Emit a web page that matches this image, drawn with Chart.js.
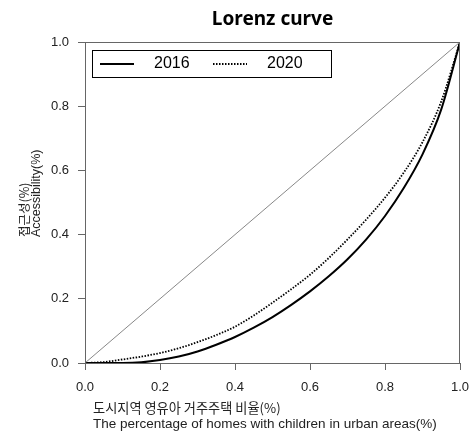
<!DOCTYPE html>
<html>
<head>
<meta charset="utf-8">
<script src="https://cdn.jsdelivr.net/npm/chart.js@4.4.0/dist/chart.umd.min.js"></script>
<style>
  html, body { margin: 0; padding: 0; background: #fff; }
</style>
</head>
<body>
<canvas id="lorenz-chart" width="473" height="433"></canvas>
<script>
// 누적 주택 비율 (x)
const shareHomes = [0, 0.05, 0.1, 0.15, 0.2, 0.25, 0.3, 0.35, 0.4, 0.45, 0.5,
                    0.55, 0.6, 0.65, 0.7, 0.75, 0.8, 0.85, 0.9, 0.95, 1];
// 누적 접근성 (y)
const access2016 = [0, 0, 0, 0.002, 0.009, 0.02, 0.036, 0.057, 0.081, 0.11, 0.143,
                    0.181, 0.223, 0.27, 0.323, 0.385, 0.458, 0.545, 0.65, 0.79, 1];
const access2020 = [0, 0.003, 0.011, 0.02, 0.031, 0.046, 0.065, 0.087, 0.113, 0.148, 0.188,
                    0.23, 0.275, 0.327, 0.385, 0.447, 0.515, 0.593, 0.688, 0.815, 1];
// 완전 평등선
const equalityX = [0, 1];
const equalityY = [0, 1];

const axisTicks = [0, 0.2, 0.4, 0.6, 0.8, 1];

const titleText = 'Lorenz curve';
const xTitleLines = ['도시지역 영유아 거주주택 비율(%)', 'The percentage of homes with children in urban areas(%)'];
const yTitleLines = ['접근성(%)', 'Accessibility(%)'];

const toPoints = (xs, ys) => xs.map((x, i) => ({ x: x, y: ys[i] }));

Chart.defaults.font.family = "'Liberation Sans', Arial, sans-serif";
Chart.defaults.color = '#222';

// 제목, 축 제목, 범례, 테두리
const decorations = {
    id: 'decorations',
    afterDraw(chart) {
        const ctx = chart.ctx;
        const area = chart.chartArea;
        ctx.save();

        // 테두리
        ctx.strokeStyle = '#666';
        ctx.lineWidth = 1;
        ctx.strokeRect(area.left + 0.5, area.top + 0.5, area.right - area.left - 1, area.bottom - area.top);

        // 제목
        ctx.fillStyle = '#000';
        ctx.font = "bold 19px 'Noto Sans', sans-serif";
        ctx.textAlign = 'center';
        ctx.textBaseline = 'alphabetic';
        ctx.fillText(titleText, (area.left + area.right) / 2, 25);

        // x축 제목
        ctx.fillStyle = '#222';
        ctx.textAlign = 'left';
        ctx.font = "13.2px 'Noto Sans CJK KR', sans-serif";
        ctx.fillText(xTitleLines[0], 93, 413);
        ctx.font = "13.5px 'Liberation Sans', Arial, sans-serif";
        ctx.fillText(xTitleLines[1], 93, 428);

        // y축 제목
        ctx.save();
        ctx.translate(29, 237);
        ctx.rotate(-Math.PI / 2);
        ctx.font = "12.5px 'Noto Sans CJK KR', sans-serif";
        ctx.fillText(yTitleLines[0], 0, 0);
        ctx.restore();
        ctx.save();
        ctx.translate(40, 237);
        ctx.rotate(-Math.PI / 2);
        ctx.font = "12.5px 'Liberation Sans', Arial, sans-serif";
        ctx.fillText(yTitleLines[1], 0, 0);
        ctx.restore();

        // 범례
        ctx.strokeStyle = '#000';
        ctx.lineWidth = 1;
        ctx.strokeRect(92.5, 50.5, 239, 27);
        const items = chart.data.datasets.filter(d => d.label);
        items.forEach((d, i) => {
            const x0 = 100 + i * 113;
            ctx.save();
            ctx.strokeStyle = d.borderColor;
            ctx.lineWidth = d.borderWidth;
            ctx.setLineDash(d.borderDash || []);
            ctx.beginPath();
            ctx.moveTo(x0, 64);
            ctx.lineTo(x0 + 34, 64);
            ctx.stroke();
            ctx.restore();
            ctx.fillStyle = '#000';
            ctx.font = "16px 'Liberation Sans', Arial, sans-serif";
            ctx.textAlign = 'left';
            ctx.textBaseline = 'middle';
            ctx.fillText(d.label, x0 + 54, 64);
        });

        ctx.restore();
    }
};

const tickFormat = v => Number(v).toFixed(1);

new Chart(document.getElementById('lorenz-chart').getContext('2d'), {
    type: 'line',
    data: {
        datasets: [
            {
                label: '',
                data: toPoints(equalityX, equalityY),
                borderColor: '#888',
                borderWidth: 1,
                pointRadius: 0
            },
            {
                label: '2016',
                data: toPoints(shareHomes, access2016),
                borderColor: '#000',
                borderWidth: 2,
                pointRadius: 0,
                cubicInterpolationMode: 'monotone'
            },
            {
                label: '2020',
                data: toPoints(shareHomes, access2020),
                borderColor: '#000',
                borderWidth: 1.8,
                borderDash: [1.5, 1.5],
                pointRadius: 0,
                cubicInterpolationMode: 'monotone'
            }
        ]
    },
    options: {
        responsive: false,
        animation: false,
        layout: { padding: { top: 42, right: 13, left: 0, bottom: 0 } },
        plugins: {
            legend: { display: false },
            tooltip: { enabled: false }
        },
        scales: {
            x: {
                type: 'linear',
                min: 0,
                max: 1,
                afterBuildTicks: s => { s.ticks = axisTicks.map(v => ({ value: v })); },
                afterFit: s => { s.height = 70; s.paddingLeft = 0; s.paddingRight = 0; },
                grid: { drawOnChartArea: false, drawTicks: true, tickLength: 7, tickColor: '#666' },
                border: { display: true, color: '#666' },
                ticks: { callback: tickFormat, font: { size: 13 }, padding: 10, maxRotation: 0 }
            },
            y: {
                type: 'linear',
                min: 0,
                max: 1,
                afterBuildTicks: s => { s.ticks = axisTicks.map(v => ({ value: v })); },
                afterFit: s => { s.width = 85; },
                grid: { drawOnChartArea: false, drawTicks: true, tickLength: 7, tickColor: '#666' },
                border: { display: true, color: '#666' },
                ticks: { callback: tickFormat, font: { size: 13 }, padding: 9 }
            }
        }
    },
    plugins: [decorations]
});
</script>
</body>
</html>
